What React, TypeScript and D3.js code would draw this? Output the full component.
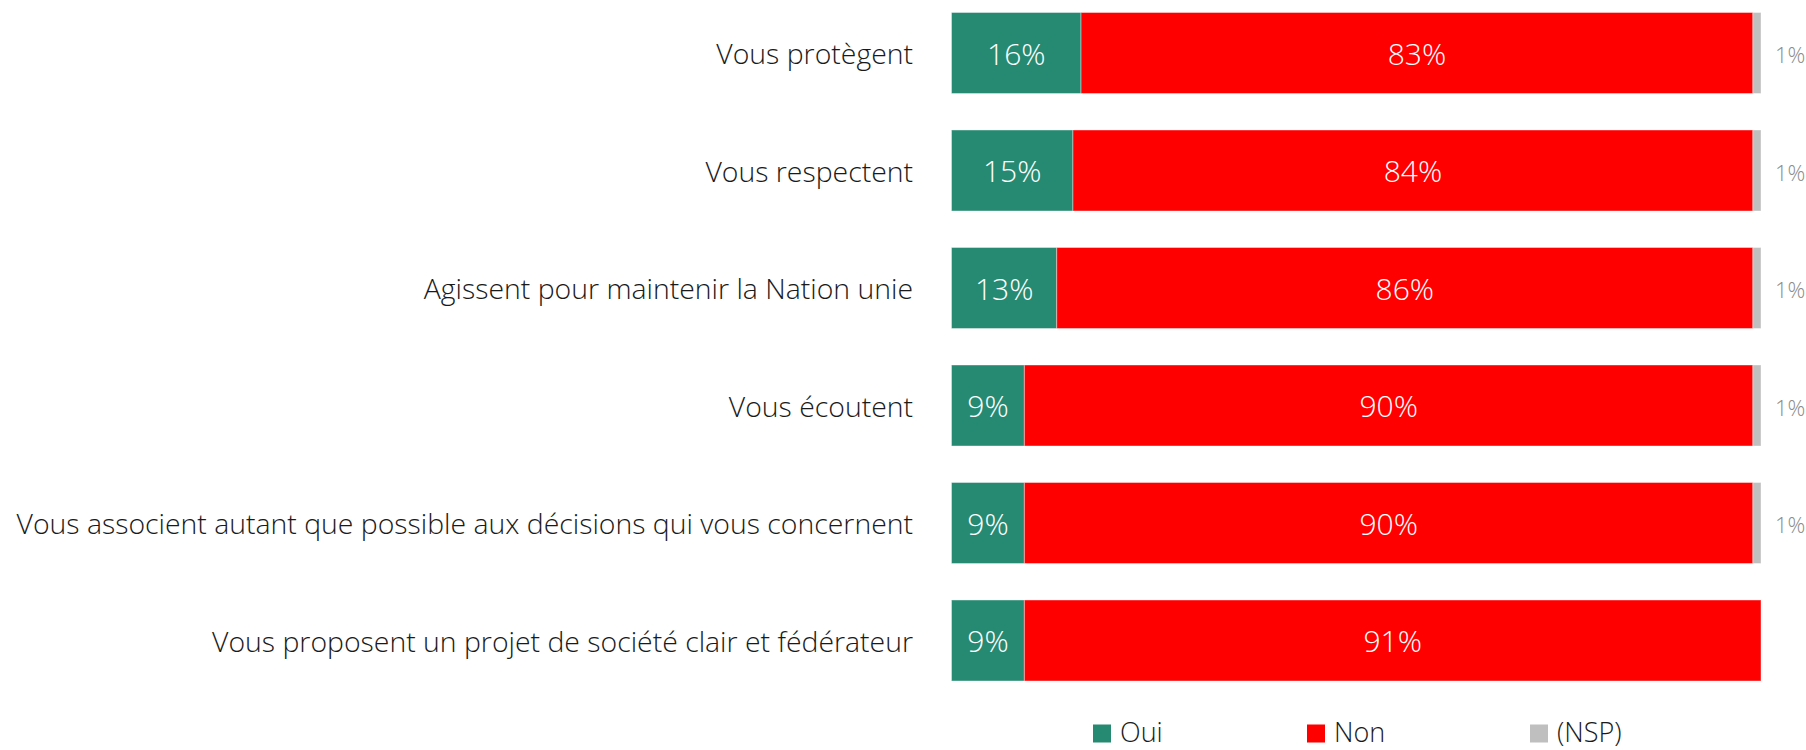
import React from "react";
import * as d3 from "d3";

const categories = [
  "Vous protègent",
  "Vous respectent",
  "Agissent pour maintenir la Nation unie",
  "Vous écoutent ",
  "Vous associent autant que possible aux décisions qui vous concernent",
  "Vous proposent un projet de société clair et fédérateur",
];
const oui = [16, 15, 13, 9, 9, 9];
const non = [83, 84, 86, 90, 90, 91];
const nsp = [1, 1, 1, 1, 1, 0];
const seriesNames = ["Oui", "Non", "(NSP)"];
const colors = ["#268A73", "#FF0000", "#BFBFBF"];

const W = 1806;
const H = 750;
const FONT = "'Open Sans', sans-serif";

export default function App() {
  const x = d3.scaleLinear().domain([0, 100]).range([951.5, 1761]);
  const step = 117.5;
  const bh = 81;
  const top0 = 12.5;
  const y = d3
    .scaleOrdinal<string, number>()
    .domain(categories)
    .range(categories.map((_, i) => top0 + i * step));
  const rows = categories.map((c, i) => {
    const vals = [oui[i], non[i], nsp[i]];
    let acc = 0;
    const segs = vals.map((v, j) => {
      const s = { x0: acc, x1: acc + v, v, j };
      acc += v;
      return s;
    });
    return { c, i, segs, y0: y(c) };
  });
  const legendX = [1093, 1307, 1530];
  return (
    <svg width={W} height={H} style={{ display: "block", position: "absolute", left: 0, top: 0 }}>
      <rect width={W} height={H} fill="#fff" />
      {rows.map((r) => (
        <g key={r.c}>
          <text x={913} y={r.y0 + bh / 2} textAnchor="end" dominantBaseline="central" fontFamily={FONT} fontWeight={300} fontSize={28.4} fill="#1a1a1a">
            {r.c}
          </text>
          {r.segs.map((s) =>
            s.v > 0 ? (
              <rect key={s.j} x={x(s.x0)} y={r.y0} width={x(s.x1) - x(s.x0)} height={bh} fill={colors[s.j]} stroke="#ffffff" strokeOpacity={0.4} strokeWidth={1} />
            ) : null
          )}
          {r.segs.map((s) =>
            s.v > 0 ? (
              s.j < 2 ? (
                <text key={"t" + s.j} x={(x(s.x0) + x(s.x1)) / 2} y={r.y0 + bh / 2} textAnchor="middle" dominantBaseline="central" fontFamily={FONT} fontWeight={300} fontSize={30} fill="#fff">
                  {s.v}%
                </text>
              ) : (
                <text key={"t" + s.j} x={x(s.x1) + 14} y={r.y0 + bh / 2 + 1} textAnchor="start" dominantBaseline="central" fontFamily={FONT} fontWeight={300} fontSize={22} fill="#8c8c8c">
                  {s.v}%
                </text>
              )
            ) : null
          )}
        </g>
      ))}
      {seriesNames.map((n, j) => (
        <g key={n}>
          <rect x={legendX[j]} y={724.5} width={18} height={18} fill={colors[j]} />
          <text x={legendX[j] + 27} y={741.5} fontFamily={FONT} fontWeight={300} fontSize={27} fill="#1a1a1a">
            {n}
          </text>
        </g>
      ))}
    </svg>
  );
}
